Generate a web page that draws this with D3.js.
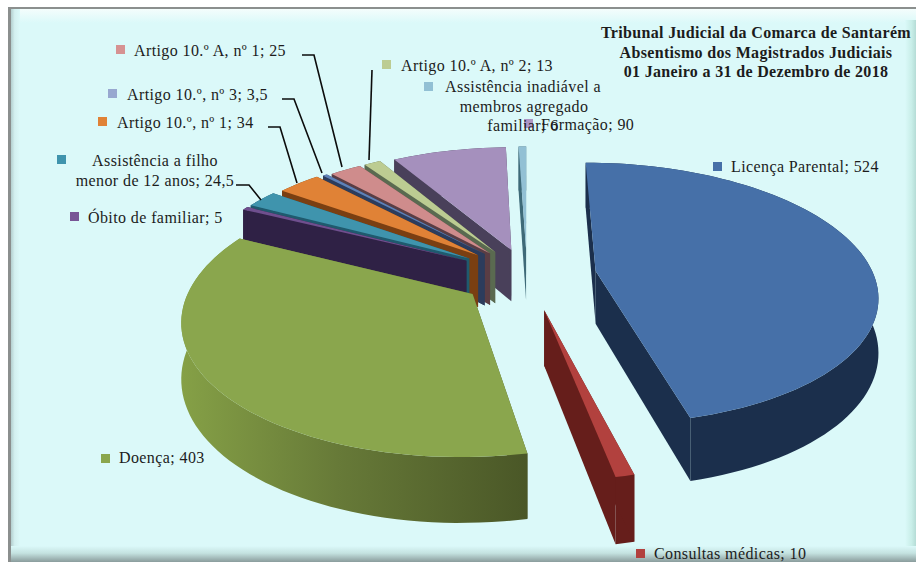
<!DOCTYPE html>
<html>
<head>
<meta charset="utf-8">
<script src="https://cdn.jsdelivr.net/npm/d3@7"></script>
<style>
  html, body { margin: 0; padding: 0; background: #fff; }
  text { font-family: "Liberation Serif", serif; fill: #1c1c1c; }
</style>
</head>
<body>
<div id="chart"></div>
<script>
// values
var categories = ["Licença Parental", "Consultas médicas", "Doença", "Óbito de familiar",
  "Assistência a filho menor de 12 anos", "Artigo 10.º, nº 1", "Artigo 10.º, nº 3",
  "Artigo 10.º A, nº 1", "Artigo 10.º A, nº 2", "Formação", "Assistência inadiável a membros agregado familiar"];
var days = [524, 10, 403, 5, 24.5, 34, 3.5, 25, 13, 90, 6];
var explosion = [0.25, 0.27, 0.24, 0.25, 0.25, 0.24, 0.23, 0.22, 0.22, 0.21, 0.21];
var topColors = ["#4670a8", "#b2413e", "#8aa64d", "#6f4f8e", "#3f94ad", "#e08236", "#5f82b8", "#cf8c8c", "#bccc92", "#a590bd", "#92c0d4"];
var keyColors = ["#4670a8", "#b2413e", "#8aa64d", "#785596", "#3f94ad", "#e08236", "#98a8d0", "#d69292", "#bccc92", "#ad96c4", "#92c0d4"];
var sideColors = ["#1b2f4c", "#661e1b", "url(#doencaSide)", "#2f2145", "#1f5a6e", "#7a3f12", "#2c3c5c", "#5a3d44", "#5a6a50", "#49405a", "#3e6a78"];
var titleLines = ["Tribunal Judicial da Comarca de Santarém", "Absentismo dos Magistrados Judiciais", "01 Janeiro a 31 de Dezembro de 2018"];

// label layout: key square, then text lines (anchor x, baseline y)
var labelLayout = [
  { key: [713, 162], lines: [["Licença Parental; 524", 731, 172, "start"]] },
  { key: [636, 549], lines: [["Consultas médicas; 10", 654, 559, "start"]] },
  { key: [101, 454], lines: [["Doença; 403", 119, 463, "start"]] },
  { key: [70, 212], lines: [["Óbito de familiar; 5", 88, 223, "start"]] },
  { key: [57, 155], lines: [["Assistência a filho", 155, 166, "middle"], ["menor de 12 anos; 24,5", 155, 186, "middle"]] },
  { key: [98, 117], lines: [["Artigo 10.º, nº 1; 34", 117, 128, "start"]] },
  { key: [108, 89], lines: [["Artigo 10.º, nº 3; 3,5", 127, 100, "start"]] },
  { key: [116, 45], lines: [["Artigo 10.º A, nº 1; 25", 134, 56, "start"]] },
  { key: [382, 60], lines: [["Artigo 10.º A, nº 2; 13", 401, 71, "start"]] },
  { key: [524, 119], lines: [["Formação; 90", 541, 130, "start"]] },
  { key: [424, 82], lines: [["Assistência inadiável a", 523, 92, "middle"], ["membros agregado", 524, 112, "middle"], ["familiar; 6", 523, 131, "middle"]] }
];
var leaders = [
  [[302, 55], [314, 55], [342, 167]],
  [[282, 99], [294, 99], [322, 173]],
  [[268, 127], [280, 127], [297, 183]],
  [[236, 185], [249, 185], [261, 200]],
  [[372, 70], [369, 160]]
];

var width = 916, height = 562;
var rad = function(d) { return d * Math.PI / 180; };

var svg = d3.select("#chart").append("svg")
  .attr("width", width)
  .attr("height", height)
  .style("display", "block");

var defs = svg.append("defs");
function gradient(id, x1, y1, x2, y2, stops) {
  var g = defs.append("linearGradient").attr("id", id)
    .attr("x1", x1).attr("y1", y1).attr("x2", x2).attr("y2", y2);
  stops.forEach(function(s) { g.append("stop").attr("offset", s[0]).attr("stop-color", s[1]); });
  return g;
}
gradient("doencaSide", 182, 0, 527, 0, [[0, "#85a046"], [0.45, "#677a38"], [1, "#4a5727"]]).attr("gradientUnits", "userSpaceOnUse");
gradient("bevelTop", 0, 0, 0, 1, [[0, "#f4fdfc"], [1, "#dbf9f9"]]);
gradient("bevelLeft", 0, 0, 1, 0, [[0, "#b4cfcf"], [0.4, "#d3efef"], [1, "#dbf9f9"]]);
gradient("bevelBottom", 0, 0, 0, 1, [[0, "#dbf9f9"], [0.45, "#c4e2e0"], [1, "#8a9c9c"]]);
gradient("bevelRight", 0, 0, 1, 0, [[0, "#dbf9f9"], [0.6, "#c8eee8"], [1, "#b5dcd6"]]);

// panel with bevelled edge
svg.append("rect").attr("x", 8).attr("y", 7).attr("width", 908).attr("height", 555).attr("fill", "#dbf9f9");
svg.append("rect").attr("x", 11).attr("y", 9).attr("width", 905).attr("height", 14).attr("fill", "url(#bevelTop)");
svg.append("rect").attr("x", 11).attr("y", 9).attr("width", 9).attr("height", 553).attr("fill", "url(#bevelLeft)");
svg.append("rect").attr("x", 905).attr("y", 20).attr("width", 11).attr("height", 542).attr("fill", "url(#bevelRight)");
svg.append("rect").attr("x", 11).attr("y", 546).attr("width", 905).attr("height", 16).attr("fill", "url(#bevelBottom)");
svg.append("rect").attr("x", 8).attr("y", 7).attr("width", 908).attr("height", 2).attr("fill", "#8b8f8e");
svg.append("rect").attr("x", 8).attr("y", 7).attr("width", 3).attr("height", 555).attr("fill", "#8b8f8e");

// 3D pie: disc coordinates (u right, v back) with perspective
var cx = 527, cy = 275, discX = 278, discY = 128, persp = 0.17, depth = 53;
function project(u, v, z) {
  var s = 1 / (1 + persp * v);
  return [cx + discX * u * s, cy - discY * v * s + depth * s * z];
}

var pie = d3.pie().sort(null).startAngle(0).endAngle(rad(360));
var arcs = pie(days);
var line = d3.line();

function faces(d, i) {
  var mid = (d.startAngle + d.endAngle) / 2;
  var u0 = explosion[i] * Math.sin(mid), v0 = explosion[i] * Math.cos(mid);
  var n = Math.max(2, Math.ceil((d.endAngle - d.startAngle) / rad(2)));
  var t = d3.scaleLinear().domain([0, n]).range([d.startAngle, d.endAngle]);
  var rim = d3.range(n + 1).map(function(k) { return [u0 + Math.sin(t(k)), v0 + Math.cos(t(k))]; });
  var at = function(z) { return function(p) { return project(p[0], p[1], z); }; };
  var top = rim.map(at(0)), bottom = rim.map(at(1));
  var a0 = project(u0, v0, 0), a1 = project(u0, v0, 1);
  return {
    start: [a0, top[0], bottom[0], a1],
    end: [a0, top[n], bottom[n], a1],
    rim: top.concat(bottom.slice().reverse()),
    top: [a0].concat(top)
  };
}

// painted back to front: small slices first, then the two big ones
var order = [10, 9, 8, 7, 6, 5, 4, 3, 2, 1, 0];
var pieG = svg.append("g");
order.forEach(function(i) {
  var f = faces(arcs[i], i);
  var g = pieG.append("g").attr("class", "slice");
  [f.rim, f.start, f.end].forEach(function(p) {
    g.append("path").attr("d", line(p) + "Z").attr("fill", sideColors[i]);
  });
  g.append("path").attr("d", line(f.top) + "Z").attr("fill", topColors[i]);
});

// leader lines
leaders.forEach(function(p) {
  svg.append("path").attr("d", line(p)).attr("fill", "none").attr("stroke", "#0c0c0c").attr("stroke-width", 1.6);
});

// labels
labelLayout.forEach(function(l, i) {
  svg.append("rect").attr("x", l.key[0]).attr("y", l.key[1]).attr("width", 9).attr("height", 9).attr("fill", keyColors[i]);
  l.lines.forEach(function(t) {
    svg.append("text").attr("x", t[1]).attr("y", t[2]).attr("text-anchor", t[3])
      .style("font-size", "16px").style("letter-spacing", "0.4px").text(t[0]);
  });
});

// title
titleLines.forEach(function(t, i) {
  svg.append("text").attr("x", 756).attr("y", [38, 58, 77][i]).attr("text-anchor", "middle")
    .style("font-size", "16px").style("font-weight", "bold").style("letter-spacing", "0.33px").text(t);
});
</script>
</body>
</html>
